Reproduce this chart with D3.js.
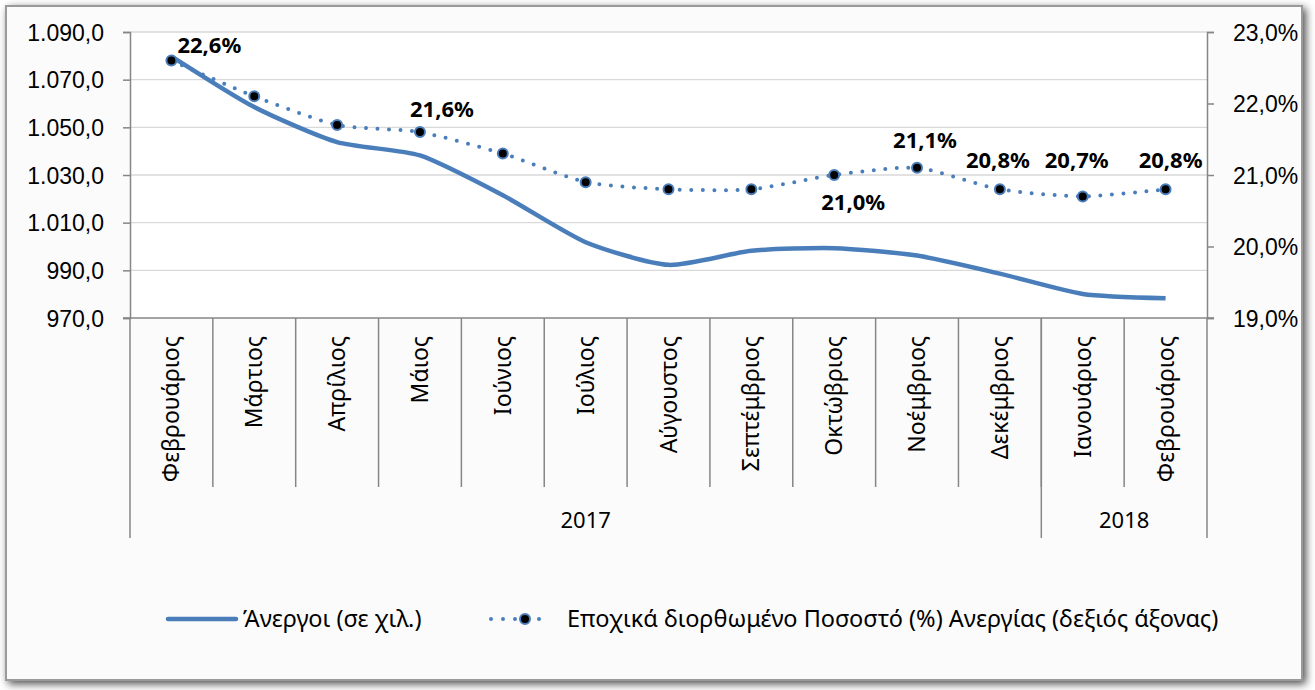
<!DOCTYPE html>
<html>
<head>
<meta charset="utf-8">
<script src="https://cdn.jsdelivr.net/npm/d3@7"></script>
<style>
  body { margin: 0; background: #ffffff; }
  svg { display: block; font-family: "Noto Sans", "Open Sans", sans-serif; }
</style>
</head>
<body>
<svg id="chart" width="1315" height="690"></svg>
<script>
const months = ['Φεβρουάριος', 'Μάρτιος', 'Απρίλιος', 'Μάιος', 'Ιούνιος', 'Ιούλιος', 'Αύγουστος',
  'Σεπτέμβριος', 'Οκτώβριος', 'Νοέμβριος', 'Δεκέμβριος', 'Ιανουάριος', 'Φεβρουάριος'];
const years = [{ label: '2017', count: 11 }, { label: '2018', count: 2 }];
const unemployed = [1079.8, 1058.5, 1043.8, 1038.2, 1021.5, 1001.8, 992.3, 998.2, 999.3, 996.2, 988.6, 980.1, 978.3];
const rate = [22.6, 22.1, 21.7, 21.6, 21.3, 20.9, 20.8, 20.8, 21.0, 21.1, 20.8, 20.7, 20.8];
const labelled = [0, 3, 8, 9, 10, 11, 12];
const leftTicks = [970, 990, 1010, 1030, 1050, 1070, 1090];
const rightTicks = [19, 20, 21, 22, 23];
const seriesNames = ['Άνεργοι (σε χιλ.)', 'Εποχικά διορθωμένο Ποσοστό (%) Ανεργίας (δεξιός άξονας)'];

// label placement (dx, dy from the point), as in the original layout
const labelPos = {
  0: { dx: 6, dy: -8, anchor: 'start' },
  3: { dx: 22, dy: -15 },
  8: { dx: 19, dy: 35 },
  9: { dx: 8, dy: -20 },
  10: { dx: -2, dy: -21 },
  11: { dx: -6, dy: -28 },
  12: { dx: 5, dy: -21 }
};

const blue = '#4a7ebb';
const axisCol = '#868686';
const fmtLeft = v => d3.format(',.1f')(v).replace(/,/g, '#').replace('.', ',').replace(/#/g, '.');
const fmtRight = v => d3.format('.1f')(v).replace('.', ',') + '%';

const svg = d3.select('#chart');

// frame with shadow
const defs = svg.append('defs');
const f = defs.append('filter').attr('id', 'sh').attr('x', '-5%').attr('y', '-5%').attr('width', '110%').attr('height', '110%');
f.append('feGaussianBlur').attr('in', 'SourceAlpha').attr('stdDeviation', 4).attr('result', 'b');
f.append('feOffset').attr('in', 'b').attr('dx', 3).attr('dy', 3).attr('result', 'o');
f.append('feComponentTransfer').attr('in', 'o').attr('result', 'o2')
  .append('feFuncA').attr('type', 'linear').attr('slope', 0.7);
const m = f.append('feMerge');
m.append('feMergeNode').attr('in', 'o2');
m.append('feMergeNode').attr('in', 'SourceGraphic');

svg.append('rect').attr('x', 6).attr('y', 6).attr('width', 1296).attr('height', 674)
  .attr('fill', '#fbfbfb').attr('stroke', '#9a9a9a').attr('stroke-width', 2).attr('filter', 'url(#sh)');

const plot = { left: 130, right: 1207, top: 32, bottom: 318 };

const x = d3.scaleBand().domain(d3.range(months.length)).range([plot.left, plot.right]);
const cx = i => x(i) + x.bandwidth() / 2;
const yL = d3.scaleLinear().domain([970, 1090]).range([plot.bottom, plot.top]);
const yR = d3.scaleLinear().domain([19, 23]).range([plot.bottom, plot.top]);

svg.append('rect').attr('x', plot.left).attr('y', plot.top)
  .attr('width', plot.right - plot.left).attr('height', plot.bottom - plot.top).attr('fill', '#ffffff');

// gridlines
svg.append('g').selectAll('line').data(leftTicks.slice(1)).join('line')
  .attr('x1', plot.left).attr('x2', plot.right)
  .attr('y1', d => yL(d)).attr('y2', d => yL(d))
  .attr('stroke', '#d9d9d9').attr('stroke-width', 1.3);

// left axis
const gL = svg.append('g').attr('transform', `translate(${plot.left},0)`)
  .call(d3.axisLeft(yL).tickValues(leftTicks).tickFormat(fmtLeft).tickSize(7).tickPadding(19));
gL.select('.domain').attr('stroke', axisCol).attr('stroke-width', 1.5);
gL.selectAll('.tick line').attr('stroke', axisCol).attr('stroke-width', 1.5);
gL.selectAll('.tick text').attr('font-size', 23).attr('fill', '#000').attr('dy', '0.36em');

// right axis
const gR = svg.append('g').attr('transform', `translate(${plot.right},0)`)
  .call(d3.axisRight(yR).tickValues(rightTicks).tickFormat(fmtRight).tickSize(7).tickPadding(19));
gR.select('.domain').attr('stroke', axisCol).attr('stroke-width', 1.5);
gR.selectAll('.tick line').attr('stroke', axisCol).attr('stroke-width', 1.5);
gR.selectAll('.tick text').attr('font-size', 23).attr('fill', '#000').attr('dy', '0.36em');

// category axis
const cat = svg.append('g');
cat.append('line').attr('x1', plot.left - 7).attr('x2', plot.right + 7)
  .attr('y1', plot.bottom).attr('y2', plot.bottom).attr('stroke', axisCol).attr('stroke-width', 1.5);
cat.selectAll('line.div').data(d3.range(1, months.length)).join('line').attr('class', 'div')
  .attr('x1', d => x(d)).attr('x2', d => x(d)).attr('y1', plot.bottom).attr('y2', 487)
  .attr('stroke', axisCol).attr('stroke-width', 1.5);
let acc = 0;
const yearBounds = [0];
years.forEach(y => { acc += y.count; yearBounds.push(acc); });
const bx = d => d < months.length ? x(d) : plot.right;
cat.selectAll('line.yr').data(yearBounds).join('line').attr('class', 'yr')
  .attr('x1', bx).attr('x2', bx).attr('y1', plot.bottom).attr('y2', 538)
  .attr('stroke', axisCol).attr('stroke-width', 1.5);
cat.selectAll('text.m').data(months).join('text').attr('class', 'm')
  .attr('transform', (d, i) => `translate(${cx(i) + 8},336) rotate(-90)`)
  .attr('text-anchor', 'end').attr('font-size', 23).text(d => d);
cat.selectAll('text.y').data(years).join('text').attr('class', 'y')
  .attr('x', (d, i) => (bx(yearBounds[i]) + bx(yearBounds[i + 1])) / 2)
  .attr('y', 528).attr('text-anchor', 'middle').attr('font-size', 22).text(d => d.label);

// unemployed line
svg.append('path').datum(unemployed)
  .attr('d', d3.line().x((d, i) => cx(i)).y(d => yL(d)).curve(d3.curveCardinal.tension(0.35)))
  .attr('fill', 'none').attr('stroke', blue).attr('stroke-width', 4.5).attr('stroke-linejoin', 'round');

// rate line (dotted with markers)
svg.append('path').datum(rate)
  .attr('d', d3.line().x((d, i) => cx(i)).y(d => yR(d)).curve(d3.curveCardinal.tension(0.35)))
  .attr('fill', 'none').attr('stroke', blue).attr('stroke-width', 4)
  .attr('stroke-linecap', 'round').attr('stroke-dasharray', '0 11.5');
svg.append('g').selectAll('circle').data(rate).join('circle')
  .attr('cx', (d, i) => cx(i)).attr('cy', d => yR(d)).attr('r', 5)
  .attr('fill', '#000').attr('stroke', blue).attr('stroke-width', 2);

// data labels
svg.append('g').selectAll('text').data(labelled).join('text')
  .attr('x', i => cx(i) + labelPos[i].dx)
  .attr('y', i => yR(rate[i]) + labelPos[i].dy)
  .attr('text-anchor', i => labelPos[i].anchor || 'middle')
  .attr('font-size', 22).attr('font-weight', 'bold').text(i => fmtRight(rate[i]));

// legend
const lg = svg.append('g').attr('transform', 'translate(0,619)');
lg.append('line').attr('x1', 168).attr('x2', 236).attr('y1', 0).attr('y2', 0)
  .attr('stroke', blue).attr('stroke-width', 4.5).attr('stroke-linecap', 'round');
lg.append('text').attr('x', 243).attr('y', 8).attr('font-size', 23.5).text(seriesNames[0]);
lg.append('line').attr('x1', 491).attr('x2', 551).attr('y1', 0).attr('y2', 0)
  .attr('stroke', blue).attr('stroke-width', 4).attr('stroke-linecap', 'round').attr('stroke-dasharray', '0 12');
lg.append('circle').attr('cx', 525).attr('cy', 0).attr('r', 5)
  .attr('fill', '#000').attr('stroke', blue).attr('stroke-width', 2);
lg.append('text').attr('x', 567).attr('y', 8).attr('font-size', 23.5).text(seriesNames[1]);
</script>
</body>
</html>
